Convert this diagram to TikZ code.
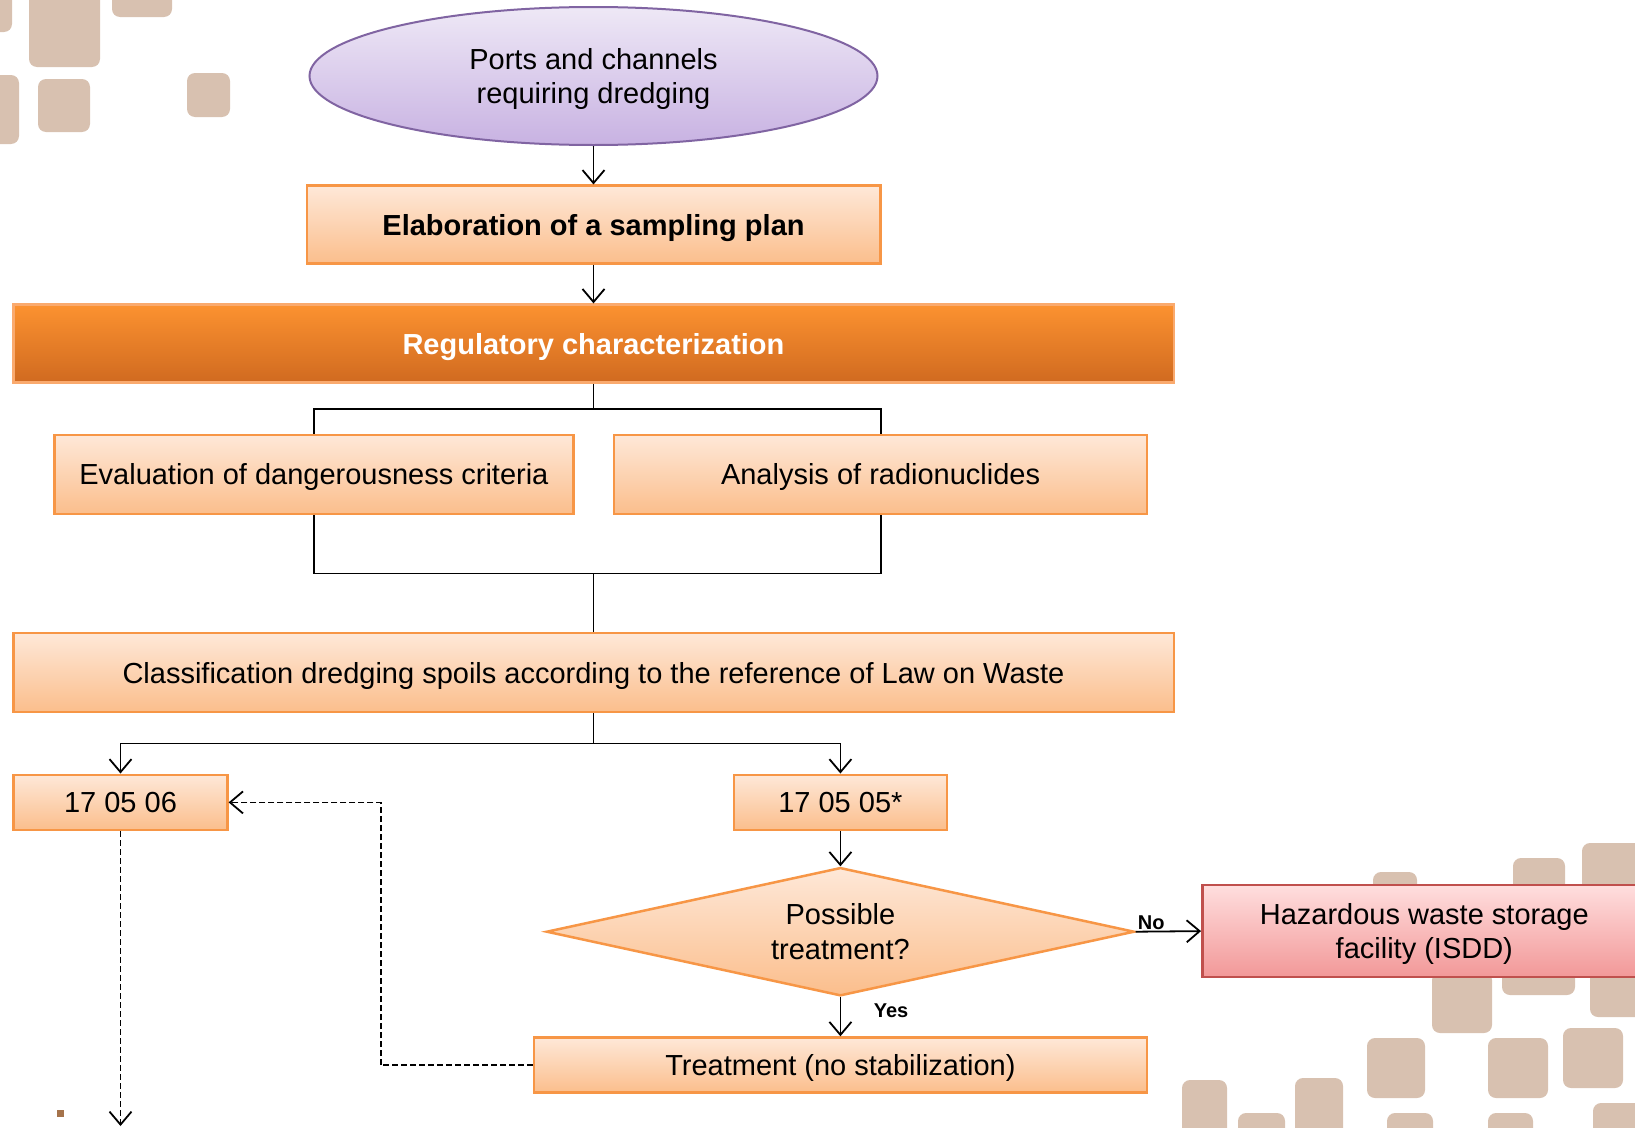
\documentclass[tikz,border=0pt]{standalone}
\usepackage{fontspec}
\setmainfont{Liberation Sans}
\usetikzlibrary{arrows.meta,shapes.geometric}
\definecolor{obord}{RGB}{247,150,70}
\definecolor{otop}{RGB}{254,232,216}
\definecolor{obot}{RGB}{251,190,140}
\definecolor{rtop}{RGB}{252,146,48}
\definecolor{rbot}{RGB}{208,106,32}
\definecolor{rbord}{RGB}{250,170,110}
\definecolor{ptop}{RGB}{238,232,246}
\definecolor{pbot}{RGB}{200,178,226}
\definecolor{pbord}{RGB}{128,100,162}
\definecolor{htop}{RGB}{255,222,222}
\definecolor{hbot}{RGB}{242,152,152}
\definecolor{hbord}{RGB}{192,80,77}
\definecolor{deco}{RGB}{216,193,176}
\definecolor{speck}{RGB}{165,115,75}
\begin{document}
\begin{tikzpicture}[x=1pt,y=-1pt,
  every node/.style={font=\fontsize{29}{34.5}\selectfont, text=black, inner sep=0pt, align=center, text depth=0pt},
  obox/.style={rectangle, draw=obord, line width=2.5pt, top color=otop, bottom color=obot},
  rbox/.style={rectangle, draw=rbord, line width=2.5pt, top color=rtop, bottom color=rbot, text=white, font=\fontsize{29}{34.5}\selectfont\bfseries},
  hbox/.style={rectangle, draw=hbord, line width=2.5pt, top color=htop, bottom color=hbot},
  ell/.style={ellipse, draw=pbord, line width=2pt, top color=ptop, bottom color=pbot},
  dia/.style={diamond, aspect=4.6, draw=obord, line width=2.5pt, top color=otop, bottom color=obot},
  lab/.style={font=\fontsize{20}{24}\selectfont\bfseries},
  ln/.style={line width=1.8pt},
  arr/.style={line width=1.8pt, -{Straight Barb[length=13pt,width=22pt,line width=1.8pt]}},
  darr/.style={line width=1.8pt, dash pattern=on 6pt off 3pt, -{Straight Barb[length=13pt,width=22pt,line width=1.8pt]}},
  dln/.style={line width=1.8pt, dash pattern=on 6pt off 3pt},
  sq/.style={fill=deco, rounded corners=8pt}]
\useasboundingbox (0,0) rectangle (1635,1127);
\clip (0,0) rectangle (1635,1127);
\fill[white] (0,0) rectangle (1635,1127);
% background decoration
\fill[sq] (-10,-10) rectangle (12,32);
\fill[sq] (29,-15) rectangle (100,67);
\fill[sq] (112,-10) rectangle (172,17);
\fill[sq] (-10,75) rectangle (19,144);
\fill[sq] (38,79) rectangle (90,132);
\fill[sq] (187,73) rectangle (230,117);
\fill[sq] (1373,872) rectangle (1417,920);
\fill[sq] (1513,858) rectangle (1565,910);
\fill[sq] (1582,843) rectangle (1645,900);
\fill[sq] (1432,972) rectangle (1492,1033);
\fill[sq] (1502,922) rectangle (1575,995);
\fill[sq] (1590,950) rectangle (1645,1017);
\fill[sq] (1367,1038) rectangle (1425,1098);
\fill[sq] (1488,1038) rectangle (1548,1098);
\fill[sq] (1563,1028) rectangle (1623,1088);
\fill[sq] (1182,1080) rectangle (1227,1140);
\fill[sq] (1295,1078) rectangle (1343,1140);
\fill[sq] (1238,1113) rectangle (1285,1140);
\fill[sq] (1387,1113) rectangle (1433,1140);
\fill[sq] (1488,1113) rectangle (1533,1140);
\fill[sq] (1593,1103) rectangle (1645,1140);
\fill[speck] (57,1110) rectangle (64,1117);
% nodes
\node[ell, minimum width=568pt, minimum height=138pt] (ports) at (593.5,76) {Ports and channels\\requiring dredging};
\node[obox, minimum width=573.5pt, minimum height=78pt, font=\fontsize{29}{34.5}\selectfont\bfseries] (elab) at (593.5,224.7) {Elaboration of a sampling plan};
\node[rbox, minimum width=1160.5pt, minimum height=78pt] (reg) at (593.5,343.6) {Regulatory characterization};
\node[obox, minimum width=519.3pt, minimum height=79pt] (eval) at (313.9,474.4) {Evaluation of dangerousness criteria};
\node[obox, minimum width=532.8pt, minimum height=79pt] (anal) at (880.6,474.4) {Analysis of radionuclides};
\node[obox, minimum width=1160.5pt, minimum height=79pt] (cls) at (593.5,672.5) {Classification dredging spoils according to the reference of Law on Waste};
\node[obox, minimum width=213.7pt, minimum height=55.3pt] (c06) at (120.5,802.4) {17 05 06};
\node[obox, minimum width=212.8pt, minimum height=55.3pt] (c05) at (840.4,802.4) {17 05 05*};
\node[dia, minimum width=588pt, minimum height=128.3pt] (poss) at (840.4,931.7) {Possible\\treatment?};
\node[hbox, minimum width=444pt, minimum height=92pt] (haz) at (1424.3,931.1) {Hazardous waste storage\\facility (ISDD)};
\node[obox, minimum width=613pt, minimum height=55.2pt] (treat) at (840.4,1065.1) {Treatment (no stabilization)};
\node[lab, anchor=base west] (no) at (1137.6,929) {No};
\node[lab] (yes) at (891,1011) {Yes};
% junction coordinates
\coordinate (j1) at (593.5,408.7);
\coordinate (j2) at (593.5,573.5);
\coordinate (j3) at (593.5,743.4);
\coordinate (d1) at (380.6,1065.1);
\coordinate (out) at (120.5,1126);
% connectors
\draw[arr] (ports.south) -- (elab.north);
\draw[arr] (elab.south) -- (reg.north);
\draw[ln] (reg.south) -- (j1);
\draw[ln] (eval.north) |- (j1) -| (anal.north);
\draw[ln] (eval.south) |- (j2) -| (anal.south);
\draw[ln] (j2) -- (cls.north);
\draw[ln] (cls.south) -- (j3);
\draw[arr] (j3) -| (c06.north);
\draw[arr] (j3) -| (c05.north);
\draw[arr] (c05.south) -- (poss.north);
\draw[arr] (poss.east) -- (haz.west);
\draw[arr] (poss.south) -- (treat.north);
\draw[dln] (treat.west) -- (d1);
\draw[darr] (d1) |- (c06.east);
\draw[darr] (c06.south) -- (out);
\end{tikzpicture}
\end{document}
